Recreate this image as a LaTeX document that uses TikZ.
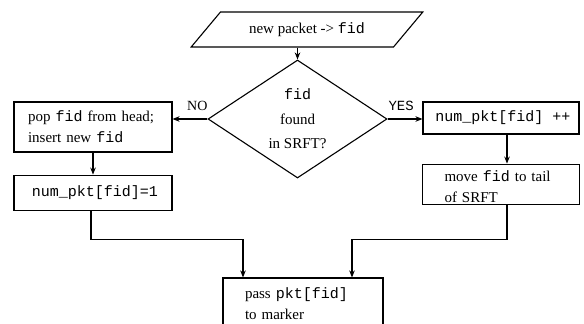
\documentclass[tikz,border=0pt]{standalone}
\usepackage{fontspec}
\setmainfont{Liberation Serif}
\setmonofont{Liberation Mono}
\usetikzlibrary{arrows.meta,positioning,shapes.geometric,calc}
\tikzset{>={Stealth[length=7pt,width=5.5pt]}}
\newcommand{\gap}{\hspace{5pt}}

\begin{document}
\begin{tikzpicture}[x=1pt, y=-1pt,
    box/.style={draw, line width=1.1pt, inner sep=0pt, align=left, font=\fontsize{15}{21}\selectfont},
    decision/.style={draw, diamond, line width=1.1pt, inner sep=0pt, minimum width=179pt, minimum height=108pt, align=center, font=\fontsize{15}{24.5}\selectfont},
    io/.style={draw, trapezium, trapezium left angle=45, trapezium right angle=135, trapezium stretches=true, line width=1.1pt, minimum width=232pt, minimum height=35pt, font=\fontsize{15}{18}\selectfont},
    arr/.style={->, line width=1.1pt},
    lbl/.style={font=\fontsize{14}{16}\selectfont, inner sep=2pt, yshift=6pt}
  ]
    \useasboundingbox (0,0) rectangle (584,324);

    \node[io] (input) at (307,29.5) {new packet -> \texttt{fid}\hspace{6pt}};
    \node[decision] (found) at (297.5,119) {\texttt{fid}\\found\\in SRFT?};
    \node[box, minimum width=158pt, minimum height=50pt, text width=130pt] (pop) at (93,127) {pop \texttt{fid}\gap from head;\\insert new\gap \texttt{fid}};
    \node[box, minimum width=158pt, minimum height=35pt, below=22pt of pop] (init) {\hspace{4pt}\texttt{num\_pkt[fid]=1}};
    \node[box, minimum width=156pt, minimum height=32pt] (incr) at (501,118) {\hspace{4pt}\texttt{num\_pkt[fid] ++}};
    \node[box, minimum width=157pt, minimum height=40pt, text width=113pt, text height=12pt, text depth=18pt, below=29pt of incr] (move) {move\gap \texttt{fid}\gap to tail\\of SRFT};
    \node[box, minimum width=160pt, minimum height=52pt, text width=116pt] (pass) at (303,304) {pass \texttt{pkt[fid]}\\to\gap marker};

    \draw[arr] (input.south -| found.north) -- (found.north);
    \draw[arr] (found.west) -- node[lbl, above, pos=0.29] {NO} (pop.east |- found.west);
    \draw[arr] (found.east) -- node[lbl, above, pos=0.39] {\texttt{YES}} (incr.west |- found.east);
    \draw[arr] (pop) -- (init);
    \draw[arr] ([xshift=6pt]incr.south) -- ([xshift=6pt]move.north);
    \draw[arr] ([xshift=-2pt]init.south) |- ([xshift=-60pt,yshift=38pt]pass.north) -- ([xshift=-60pt]pass.north);
    \draw[arr] ([xshift=6pt]move.south) |- ([xshift=49pt,yshift=38pt]pass.north) -- ([xshift=49pt]pass.north);
  \end{tikzpicture}
\end{document}
